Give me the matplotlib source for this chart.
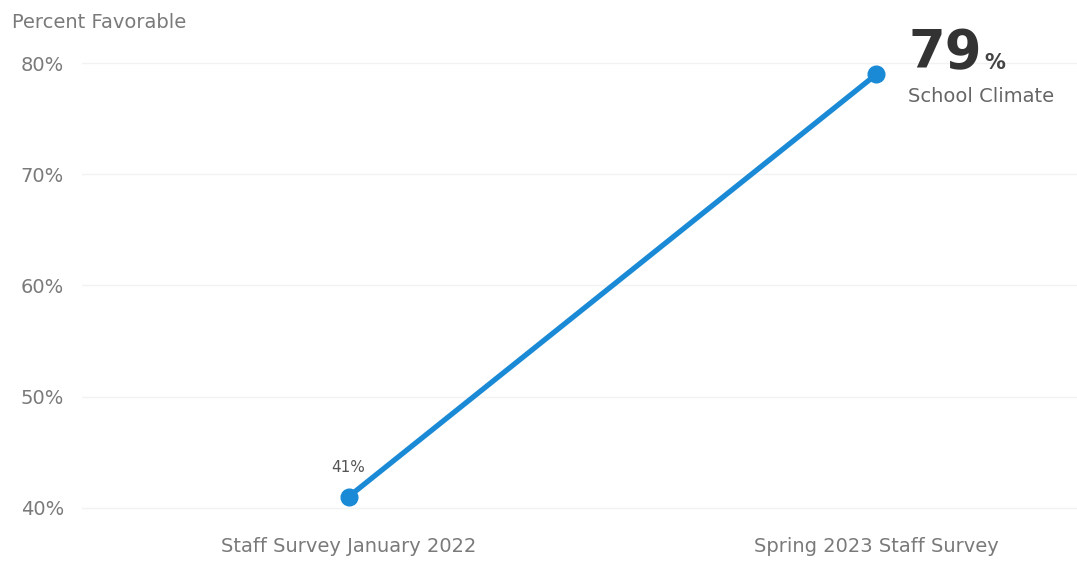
import matplotlib
matplotlib.use("Agg")
import matplotlib.pyplot as plt

# data
surveys = ["Staff Survey January 2022", "Spring 2023 Staff Survey"]
favorable = [41, 79]
y_ticks = [40, 50, 60, 70, 80]
series_name = "School Climate"

plt.rcParams["font.family"] = ["DejaVu Sans"]

fig = plt.figure(figsize=(10.77, 5.70), dpi=100)
ax = fig.add_axes([0.0761, 0.0895, 0.924, 0.8193])

x = list(range(len(surveys)))
ax.plot(x, favorable, color="#1a8ad6", lw=3.8, marker="o", ms=12,
        solid_capstyle="round", zorder=3)

ax.set_xlim(-0.505, 1.38)
ax.set_ylim(39, 81)
ax.set_yticks(y_ticks)
ax.set_yticklabels([f"{v}%" for v in y_ticks])
ax.set_xticks(x)
ax.set_xticklabels(surveys)
ax.tick_params(axis="both", length=0, colors="#7a7a7a", labelsize=14)
ax.tick_params(axis="y", pad=13)
ax.tick_params(axis="x", pad=13)
ax.grid(axis="y", color="#f2f2f2", lw=1)
ax.set_axisbelow(True)
for s in ax.spines.values():
    s.set_visible(False)

fig.text(12 / 1077, 1 - 22 / 570, "Percent Favorable", color="#7a7a7a",
         fontsize=14, va="center", ha="left")

# first point label
ax.annotate(f"{favorable[0]}%", xy=(x[0], favorable[0]), xytext=(0, 16),
            textcoords="offset points", ha="center", va="bottom",
            fontsize=11, color="#555555")

# last point callout
ax.annotate(f"{favorable[-1]}", xy=(x[-1], favorable[-1]), xytext=(23, 4),
            textcoords="offset points", ha="left", va="baseline",
            fontsize=38, fontweight="bold", color="#333333")
ax.annotate("%", xy=(x[-1], favorable[-1]), xytext=(78, 4),
            textcoords="offset points", ha="left", va="baseline",
            fontsize=15, fontweight="bold", color="#444444")
ax.annotate(series_name, xy=(x[-1], favorable[-1]), xytext=(23, -16),
            textcoords="offset points", ha="left", va="center",
            fontsize=14, color="#666666")

fig.savefig("out.png", dpi=100, facecolor="white")
